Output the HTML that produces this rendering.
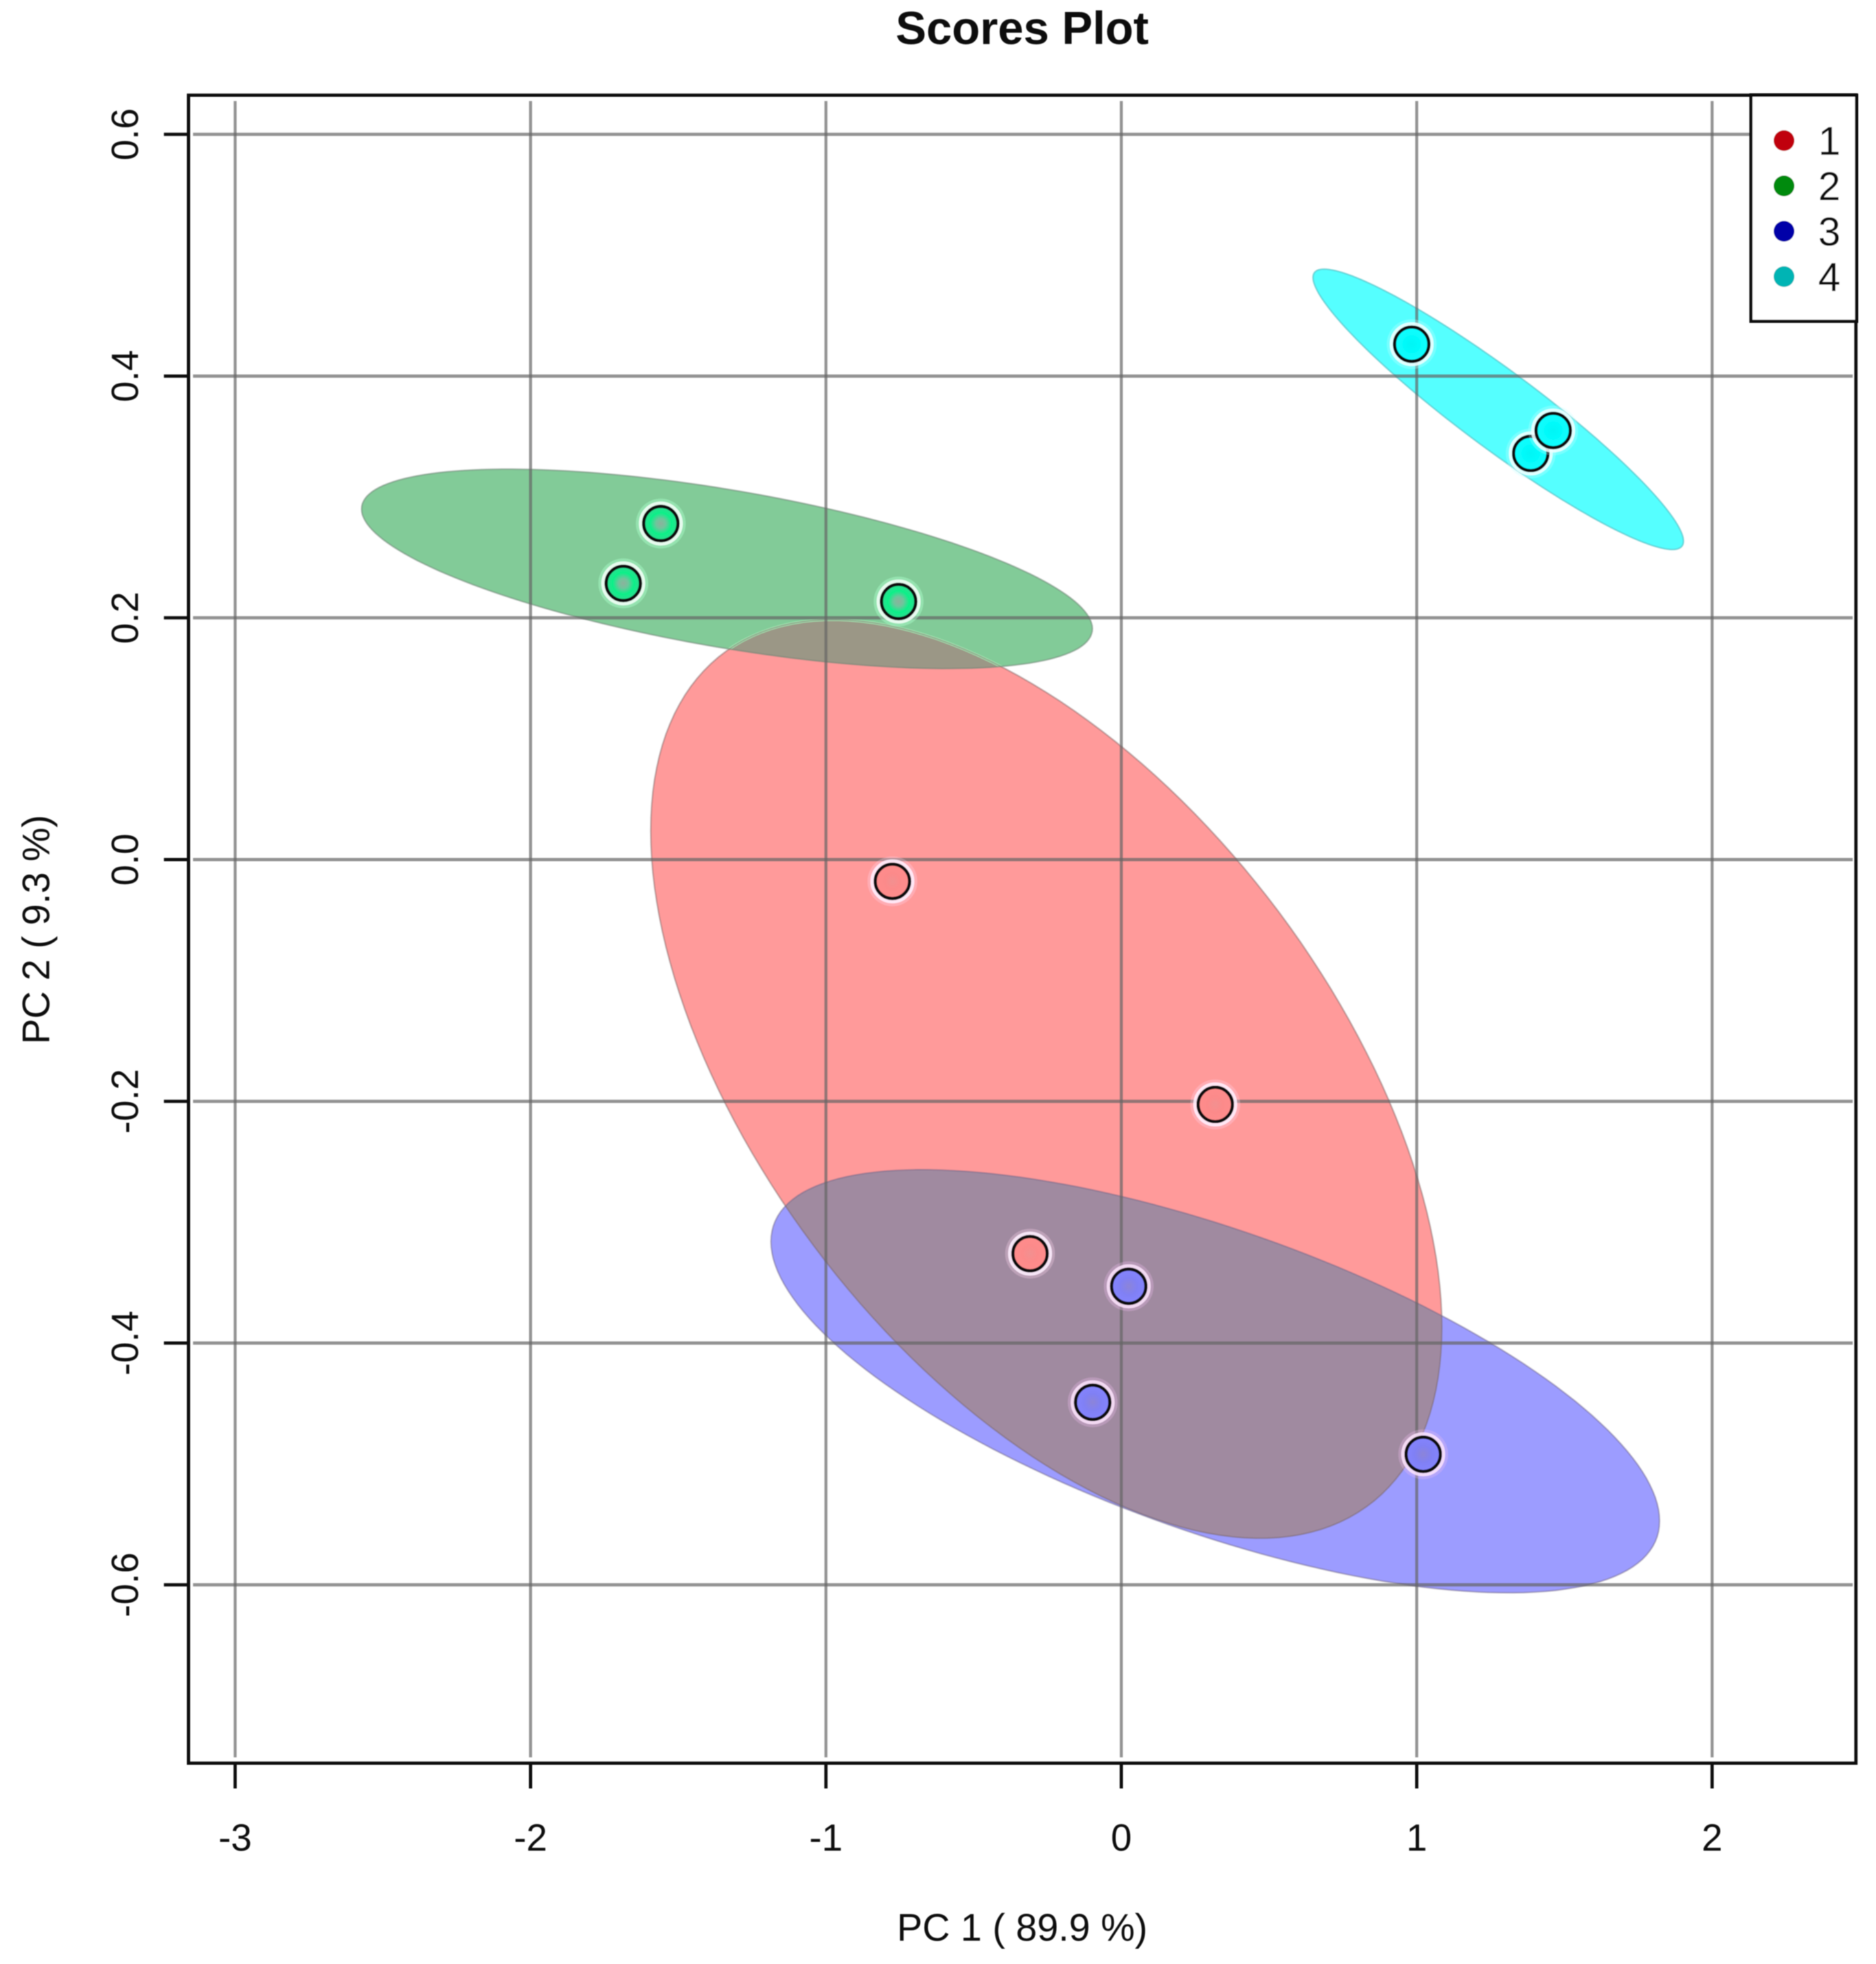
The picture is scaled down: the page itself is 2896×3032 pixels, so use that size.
<!DOCTYPE html>
<html lang="en">
<head>
<meta charset="utf-8">
<title>Scores Plot</title>
<style>
html,body{margin:0;padding:0;background:#fff;width:2896px;height:3032px;overflow:hidden}
svg{display:block;font-family:"Liberation Sans",sans-serif}
text{fill:#0c0c0c}
</style>
</head>
<body>
<svg id="chart" xmlns="http://www.w3.org/2000/svg" width="2896" height="3032" viewBox="0 0 2896 3032">
  <defs>
    <filter id="soft" x="-2%" y="-2%" width="104%" height="104%"><feGaussianBlur stdDeviation="0.8"/></filter>
    <radialGradient id="marker-fill-0"><stop offset="0" stop-color="#f29090"/><stop offset="0.45" stop-color="#fc8a8a"/><stop offset="1" stop-color="#ff8c8c"/></radialGradient>
    <radialGradient id="marker-fill-1"><stop offset="0" stop-color="#8cb29c"/><stop offset="0.28" stop-color="#70c49c"/><stop offset="0.62" stop-color="#0cf088"/><stop offset="1" stop-color="#30dc90"/></radialGradient>
    <radialGradient id="marker-fill-2"><stop offset="0" stop-color="#8c84d8"/><stop offset="0.5" stop-color="#8080f4"/><stop offset="1" stop-color="#8484ff"/></radialGradient>
    <radialGradient id="marker-fill-3"><stop offset="0" stop-color="#00f6f6"/><stop offset="1" stop-color="#0cffff"/></radialGradient>
  </defs>
  <rect x="0" y="0" width="2896" height="3032" fill="#fff"/>
  <g id="ellipses" filter="url(#soft)"></g>
  <g id="grid" filter="url(#soft)"></g>
  <g id="points" filter="url(#soft)"></g>
  <g id="axes" filter="url(#soft)"></g>
  <g id="legend" filter="url(#soft)"></g>
  <g filter="url(#soft)">
    <text x="1578" y="68" text-anchor="middle" font-size="71" font-weight="bold">Scores Plot</text>
    <text x="1578" y="2996" text-anchor="middle" font-size="59">PC 1 ( 89.9 %)</text>
    <text transform="translate(76 1435) rotate(-90)" text-anchor="middle" font-size="59">PC 2 ( 9.3 %)</text>
  </g>
</svg>
<script>
const xTicks = [-3, -2, -1, 0, 1, 2];
const yTicks = [-0.6, -0.4, -0.2, 0, 0.2, 0.4, 0.6];
const xTickLabels = ["-3", "-2", "-1", "0", "1", "2"];
const yTickLabels = ["-0.6", "-0.4", "-0.2", "0.0", "0.2", "0.4", "0.6"];
const groups = ["1", "2", "3", "4"];

const group1X = [-0.775, 0.318, -0.309];
const group1Y = [-0.018, -0.2026, -0.326];
const group2X = [-1.686, -1.559, -0.754];
const group2Y = [0.2285, 0.278, 0.2135];
const group3X = [0.025, -0.097, 1.022];
const group3Y = [-0.353, -0.449, -0.492];
const group4X = [0.983, 1.386, 1.462];
const group4Y = [0.4264, 0.336, 0.355];

const ellipseCenterX = [-0.254, -1.335, 0.318, 1.276];
const ellipseCenterY = [-0.1815, 0.2405, -0.4316, 0.3725];
const ellipseSpreadX = [1.339, 1.237, 1.504, 0.627];
const ellipseSpreadY = [0.38, 0.0825, 0.175, 0.116];
const ellipseCorr = [-0.54, -0.6, -0.66, -0.94];

const allX = [group1X, group2X, group3X, group4X];
const allY = [group1Y, group2Y, group3Y, group4Y];

const NS = "http://www.w3.org/2000/svg";
const fillColors = ["#ff9a9a", "#82cb98", "#9c9cff", "#55ffff"];
const outlineColors = ["rgba(120,100,100,0.45)", "rgba(110,130,115,0.5)", "rgba(110,100,130,0.45)", "rgba(80,190,195,0.6)"];
const haloColors = ["rgba(255,240,255,0.9)", "rgba(240,255,246,0.92)", "rgba(252,226,252,0.9)", "rgba(240,255,255,0.9)"];
const glowColors = ["rgba(255,215,240,0.3)", "rgba(170,255,205,0.45)", "rgba(240,190,240,0.3)", "rgba(200,255,255,0.3)"];
const legendColors = ["#c00008", "#008a10", "#0000a8", "#00b4b4"];

function px(v) { return 1731 + 456 * v; }
function py(v) { return 1327 - 1866 * v; }
function make(tag, parent, props) {
  const el = document.createElementNS(NS, tag);
  for (const k in props) el.setAttribute(k, props[k]);
  parent.appendChild(el);
  return el;
}
function ellipsePath(i) {
  const a = Math.acos(ellipseCorr[i]);
  let d = "";
  for (let k = 0; k < 180; k++) {
    const t = k / 180 * 2 * Math.PI;
    const x = px(ellipseCenterX[i] + ellipseSpreadX[i] * Math.cos(t));
    const y = py(ellipseCenterY[i] + ellipseSpreadY[i] * Math.cos(t + a));
    d += (k ? "L" : "M") + x.toFixed(1) + " " + y.toFixed(1);
  }
  return d + "Z";
}

const chart = document.getElementById("chart");
const defs = chart.querySelector("defs");
const gE = document.getElementById("ellipses");
const gG = document.getElementById("grid");
const gP = document.getElementById("points");
const gA = document.getElementById("axes");
const gL = document.getElementById("legend");

groups.forEach(function (g, i) {
  const e = make("path", gE, { d: ellipsePath(i), fill: fillColors[i] });
  
  
});
[[0, 2, "#a08aa0"], [0, 1, "#9b9786"]].forEach(function (o, n) {
  const cp = make("clipPath", defs, { id: "clip" + n });
  make("path", cp, { d: ellipsePath(o[0]) });
  const ov = make("path", gE, { d: ellipsePath(o[1]), fill: o[2], "clip-path": "url(#clip" + n + ")" });
  
  
});
const gc = make("clipPath", defs, { id: "greenClip" });
make("path", gc, { d: ellipsePath(1) });
const glow = make("path", gE, { d: ellipsePath(0), fill: "none", stroke: "#a8f0b8", "stroke-width": 4, "clip-path": "url(#greenClip)" });


groups.forEach(function (g, i) {
  const s = make("path", gE, { d: ellipsePath(i), fill: "none", stroke: outlineColors[i], "stroke-width": 2.5 });
  
  
});

xTicks.forEach(function (v) {
  const l = make("line", gG, { x1: px(v), x2: px(v), y1: 156, y2: 2713, stroke: "rgba(100,100,100,0.7)", "stroke-width": 4.5 });
  
  
});
yTicks.forEach(function (v) {
  const l = make("line", gG, { x1: 298, x2: 2860, y1: py(v), y2: py(v), stroke: "rgba(100,100,100,0.7)", "stroke-width": 5 });
  
  
});

groups.forEach(function (g, i) {
  allX[i].forEach(function (xv, j) {
    const cx = px(xv), cy = py(allY[i][j]);
    const outer = make("circle", gP, { cx: cx, cy: cy, r: 36, fill: "none", stroke: glowColors[i], "stroke-width": 5 });
    
    
    const halo = make("circle", gP, { cx: cx, cy: cy, r: 31.5, fill: "none", stroke: haloColors[i], "stroke-width": 5 });
    
    
    const c = make("circle", gP, { cx: cx, cy: cy, r: 26.5, fill: "url(#marker-fill-" + i + ")", stroke: "#08080e", "stroke-width": 5 });
    
    
  });
});

const frame = make("rect", gA, { x: 291, y: 147, width: 2574, height: 2575, fill: "none", stroke: "#111", "stroke-width": 5 });


xTicks.forEach(function (v, i) {
  const t = make("line", gA, { x1: px(v), x2: px(v), y1: 2722, y2: 2761, stroke: "#111", "stroke-width": 5 });
  
  
  const lb = make("text", gA, { x: px(v), y: 2857, "text-anchor": "middle", "font-size": 58 });
  lb.textContent = xTickLabels[i];
  
  
});
yTicks.forEach(function (v, i) {
  const t = make("line", gA, { x1: 253, x2: 291, y1: py(v), y2: py(v), stroke: "#111", "stroke-width": 5 });
  
  
  const lb = make("text", gA, { transform: "translate(213 " + py(v) + ") rotate(-90)", "text-anchor": "middle", "font-size": 58 });
  lb.textContent = yTickLabels[i];
  
  
});

const box = make("rect", gL, { x: 2703, y: 147, width: 163, height: 349, fill: "#fff", stroke: "#111", "stroke-width": 5 });


groups.forEach(function (g, i) {
  const y = 217 + 70 * i;
  const dot = make("circle", gL, { cx: 2754, cy: y, r: 16, fill: legendColors[i] });
  
  
  const lb = make("text", gL, { x: 2824, y: y + 22, "text-anchor": "middle", "font-size": 62 });
  lb.textContent = g;
  
  
});
</script>
</body>
</html>
